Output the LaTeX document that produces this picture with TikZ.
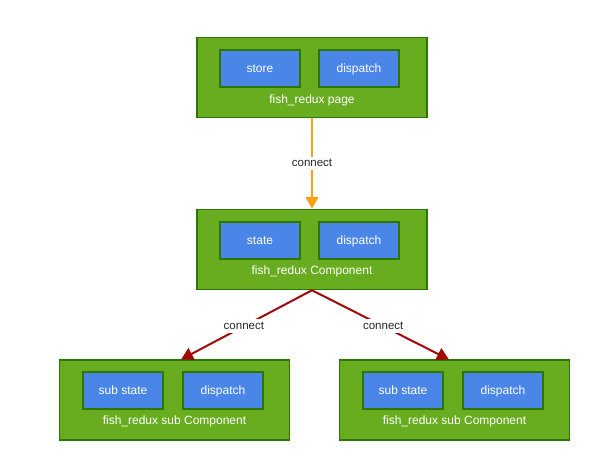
\documentclass[tikz,border=0pt]{standalone}
\usepackage{fontspec}
\setmainfont{Liberation Sans}
\usetikzlibrary{arrows.meta}
\definecolor{gfill}{HTML}{68AC20}
\definecolor{gline}{HTML}{2D7600}
\definecolor{bfill}{HTML}{4A86E8}
\definecolor{oline}{HTML}{FF9F14}
\definecolor{rline}{HTML}{A20A0A}
\begin{document}
\begin{tikzpicture}[x=1pt,y=-1pt,
  outer/.style={draw=gline,fill=gfill,line width=1.5pt,minimum width=230pt,minimum height=80pt,inner sep=0pt},
  inner/.style={draw=gline,fill=bfill,line width=1.5pt,minimum width=80pt,minimum height=37pt,inner sep=0pt,text=white,font=\fontsize{12}{14}\selectfont,text height=9.8pt,text depth=1.4pt},
  lbl/.style={text=white,font=\fontsize{12}{14}\selectfont,inner sep=0pt,text height=8.6pt,text depth=2.6pt},
  clbl/.style={fill=white,text=black!85,font=\fontsize{11.5}{13}\selectfont,inner sep=1.5pt,text height=8.4pt,text depth=2.5pt},
  oarr/.style={draw=oline,line width=2pt,-{Triangle[length=12pt,width=13pt]}},
  rarr/.style={draw=rline,line width=2pt,-{Triangle[length=12pt,width=13pt]}}]
\useasboundingbox (0,0) rectangle (590,460);
% top
\node[outer] (top) at (312,77.5) {};
\node[inner] (store) at (260,68.5) {store};
\node[inner] (tdisp) at (359,68.5) {dispatch};
\node[lbl] (tlbl) at (312,101) {fish\_redux page};
% middle
\node[outer] (mid) at (312,249.5) {};
\node[inner] (state) at (260,240.5) {state};
\node[inner] (mdisp) at (359,240.5) {dispatch};
\node[lbl] (mlbl) at (312,271.5) {fish\_redux Component};
% bottom left
\node[outer] (bl) at (174.5,400) {};
\node[inner] (blstate) at (123,390.5) {sub state};
\node[inner] (bldisp) at (223,390.5) {dispatch};
\node[lbl] (bllbl) at (174.5,421) {fish\_redux sub Component};
% bottom right
\node[outer] (br) at (454.5,400) {};
\node[inner] (brstate) at (403,390.5) {sub state};
\node[inner] (brdisp) at (503,390.5) {dispatch};
\node[lbl] (brlbl) at (454.5,421) {fish\_redux sub Component};
% connectors
\draw[oarr] (top.south) -- node[clbl,pos=0.5] {connect} (mid.north);
\coordinate (blin) at (181,359.5);
\coordinate (brin) at (449,359.5);
\draw[rarr] (mid.south) -- node[clbl,pos=0.52] {connect} (blin);
\draw[rarr] (mid.south) -- node[clbl,pos=0.52] {connect} (brin);
\end{tikzpicture}
\end{document}
